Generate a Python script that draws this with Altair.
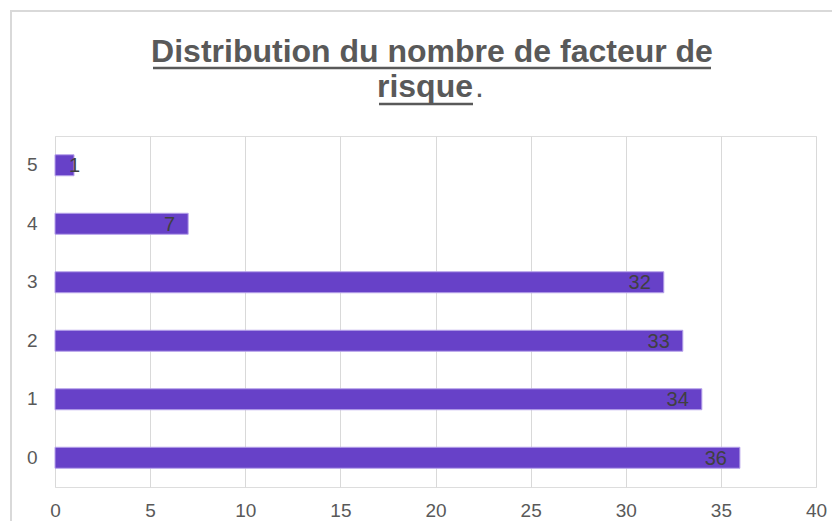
import altair as alt
import pandas as pd

# Data
categories = ["0", "1", "2", "3", "4", "5"]
counts = [36, 34, 33, 32, 7, 1]
x_ticks = [0, 5, 10, 15, 20, 25, 30, 35, 40]
title_line1 = "Distribution du nombre de facteur de"
title_line2 = "risque"
title_end = "."

df = pd.DataFrame({"k": categories, "n": counts})

FONT = "Liberation Sans"
GRAY = "#595959"
order = list(reversed(categories))

base = alt.Chart(df)

x_enc = alt.X(
    "n:Q",
    scale=alt.Scale(domain=[0, 40], nice=False),
    axis=alt.Axis(values=x_ticks, title=None, grid=True, gridColor="#D9D9D9",
                  domain=False, ticks=False, labelFontSize=19, labelColor=GRAY,
                  labelFont=FONT, labelPadding=14, labelFlush=False),
)
y_enc = alt.Y(
    "k:N", sort=order,
    scale=alt.Scale(paddingInner=0, paddingOuter=0),
    axis=alt.Axis(title=None, domain=False, ticks=False, grid=False,
                  labelFontSize=19, labelColor=GRAY, labelFont=FONT, labelPadding=18),
)

bars = base.mark_bar(size=21, color="#6741C8", stroke="#B7A3EA", strokeWidth=1).encode(
    x=x_enc, y=y_enc
)

labels_big = base.transform_filter("datum.n >= 5").mark_text(
    align="right", baseline="middle", dx=-13, dy=1, fontSize=20, font=FONT, color="#404040"
).encode(x="n:Q", y=alt.Y("k:N", sort=order), text="n:Q")

labels_small = base.transform_filter("datum.n < 5").mark_text(
    align="left", baseline="middle", dx=-5, dy=1, fontSize=20, font=FONT, color="#404040"
).encode(x="n:Q", y=alt.Y("k:N", sort=order), text="n:Q")

one = alt.Data(values=[{}])

t1 = alt.Chart(one).mark_text(
    fontSize=32, fontWeight="bold", font=FONT, color=GRAY, align="center", baseline="alphabetic"
).encode(x=alt.value(377), y=alt.value(-74), text=alt.value(title_line1))

t2 = alt.Chart(one).mark_text(
    fontSize=32, fontWeight="bold", font=FONT, color=GRAY, align="right", baseline="alphabetic"
).encode(x=alt.value(418), y=alt.value(-39), text=alt.value(title_line2))

t3 = alt.Chart(one).mark_text(
    fontSize=32, font=FONT, color=GRAY, align="left", baseline="alphabetic"
).encode(x=alt.value(420), y=alt.value(-39), text=alt.value(title_end))

u1 = alt.Chart(one).mark_rule(color=GRAY, strokeWidth=2.5).encode(
    x=alt.value(98), x2=alt.value(656), y=alt.value(-68)
)
u2 = alt.Chart(one).mark_rule(color=GRAY, strokeWidth=2.5).encode(
    x=alt.value(324), x2=alt.value(418), y=alt.value(-32)
)

border_top = alt.Chart(one).mark_rule(color="#D9D9D9", strokeWidth=2).encode(
    x=alt.value(-45), x2=alt.value(800), y=alt.value(-125)
)
border_left = alt.Chart(one).mark_rule(color="#D9D9D9", strokeWidth=2).encode(
    x=alt.value(-44), y=alt.value(-126), y2=alt.value(420)
)

chart = alt.layer(
    bars, labels_big, labels_small, t1, t2, t3, u1, u2, border_top, border_left
).properties(
    width=761, height=351,
    autosize=alt.AutoSizeParams(type="none"),
    padding={"left": 47, "top": 128, "right": 16, "bottom": 34},
).configure_view(strokeWidth=0).configure(background="white")

chart.save("out.html", embed_options={"renderer": "svg", "actions": False})
